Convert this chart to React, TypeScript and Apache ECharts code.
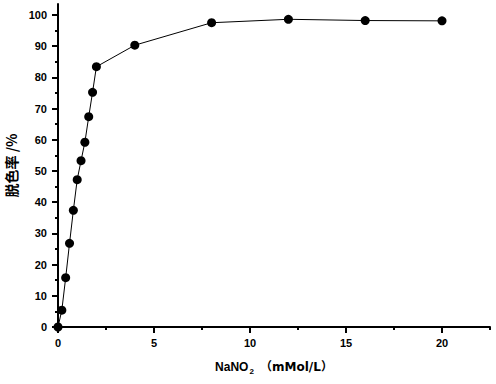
import React, { useEffect, useRef } from "react";
import * as echarts from "echarts";

const concentration = [0, 0.2, 0.4, 0.6, 0.8, 1.0, 1.2, 1.4, 1.6, 1.8, 2, 4, 8, 12, 16, 20];
const decolorRate = [0, 5.4, 15.8, 26.8, 37.4, 47.2, 53.3, 59.2, 67.4, 75.2, 83.4, 90.3, 97.5, 98.6, 98.2, 98.1];
const xMajorTicks = [0, 5, 10, 15, 20];
const xMinorTicks = [2.5, 7.5, 12.5, 17.5, 22.5];
const yMajorTicks = [0, 10, 20, 30, 40, 50, 60, 70, 80, 90, 100];
const yMinorTicks = [5, 15, 25, 35, 45, 55, 65, 75, 85, 95];
const xTitleMain = "NaNO";
const xTitleSub = "2";
const xTitleUnit = "（mMol/L）";
const yTitle = "脱色率 /%";

const FONT = "'Liberation Sans', Arial, sans-serif";

export default function App() {
  const ref = useRef<HTMLDivElement>(null);
  useEffect(() => {
    if (!ref.current) return;
    const chart = echarts.init(ref.current, undefined, { renderer: "svg" });
    const lineCol = "#000";
    chart.setOption({
      animation: false,
      backgroundColor: "#fff",
      grid: { left: 58, right: 6, top: 4, bottom: 57, containLabel: false, outerBoundsMode: "none" },
      xAxis: [
        {
          type: "value",
          position: "bottom",
          min: 0,
          max: 22.5,
          name: `{a|${xTitleMain}}{s|${xTitleSub}}{u| ${xTitleUnit}}`,
          nameLocation: "middle",
          nameGap: 32,
          nameTextStyle: {
            rich: {
              a: { fontFamily: FONT, fontSize: 12, fontWeight: "bold", color: "#000" },
              s: { fontFamily: FONT, fontSize: 8, fontWeight: "bold", color: "#000", verticalAlign: "bottom", padding: [8, 2, 0, 1] },
              u: { fontFamily: "'DejaVu Sans', 'Noto Sans CJK SC', sans-serif", fontSize: 12, fontWeight: "bold", color: "#000" },
            },
          },
          axisLine: { show: true, lineStyle: { color: lineCol, width: 2 } },
          axisTick: { show: true, customValues: xMajorTicks, length: 6, inside: false, lineStyle: { color: lineCol, width: 2 } },
          axisLabel: { customValues: xMajorTicks, margin: 10, fontFamily: FONT, fontSize: 11, fontWeight: "bold", color: "#000" },
          splitLine: { show: false },
        },
        {
          type: "value",
          position: "bottom",
          min: 0,
          max: 22.5,
          axisLine: { show: false },
          axisTick: { show: true, customValues: xMinorTicks, length: 3, lineStyle: { color: lineCol, width: 2 } },
          axisLabel: { show: false },
          splitLine: { show: false },
        },
      ],
      yAxis: [
        {
          type: "value",
          position: "left",
          min: 0,
          max: 103.5,
          name: yTitle,
          nameLocation: "middle",
          nameGap: 38,
          nameRotate: 90,
          nameTextStyle: { fontFamily: "'Noto Sans CJK SC', sans-serif", fontSize: 14, fontWeight: "bold", color: "#000" },
          axisLine: { show: true, lineStyle: { color: lineCol, width: 2 } },
          axisTick: { show: true, customValues: yMajorTicks, length: 6, lineStyle: { color: lineCol, width: 2 } },
          axisLabel: { customValues: yMajorTicks, margin: 11, fontFamily: FONT, fontSize: 11, fontWeight: "bold", color: "#000" },
          splitLine: { show: false },
        },
        {
          type: "value",
          position: "left",
          min: 0,
          max: 103.5,
          axisLine: { show: false },
          axisTick: { show: true, customValues: yMinorTicks, length: 3, lineStyle: { color: lineCol, width: 2 } },
          axisLabel: { show: false },
          splitLine: { show: false },
        },
      ],
      series: [
        {
          type: "line",
          xAxisIndex: 0,
          yAxisIndex: 0,
          data: concentration.map((x, i) => [x, decolorRate[i]]),
          symbol: "circle",
          symbolSize: 9,
          showAllSymbol: true,
          clip: false,
          itemStyle: { color: "#000" },
          lineStyle: { color: "#000", width: 1 },
        },
      ],
    });
    return () => chart.dispose();
  }, []);
  return (
    <div
      ref={ref}
      style={{ position: "absolute", left: 0, top: 0, width: 496, height: 384, background: "#fff" }}
    />
  );
}
